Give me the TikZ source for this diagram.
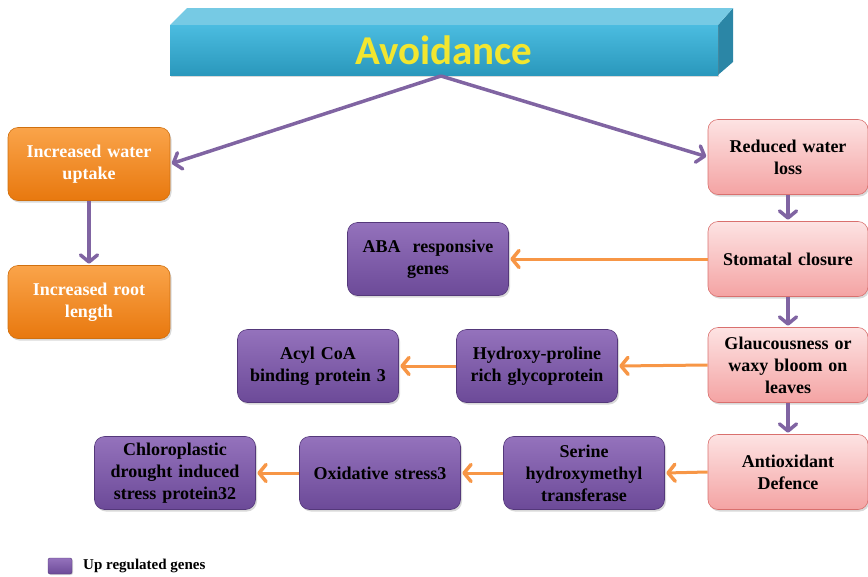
\documentclass[tikz,border=0pt]{standalone}
\usepackage{fontspec}
\setmainfont{Liberation Serif}
\newfontfamily\titlefont{Carlito}
\usetikzlibrary{arrows.meta,shadows}

\definecolor{barfrontT}{HTML}{4BBCE0}
\definecolor{barfrontB}{HTML}{2A98BC}
\definecolor{bartopC}{HTML}{76CAE4}
\definecolor{barsideC}{HTML}{2B86A6}
\definecolor{titleyellow}{HTML}{F2E630}
\definecolor{orangeT}{HTML}{FAA44A}
\definecolor{orangeB}{HTML}{E8780E}
\definecolor{orangeD}{HTML}{D0700F}
\definecolor{pinkT}{HTML}{FDE3E3}
\definecolor{pinkB}{HTML}{F4A3A3}
\definecolor{pinkD}{HTML}{D9706E}
\definecolor{purpT}{HTML}{9472BC}
\definecolor{purpB}{HTML}{6C4A98}
\definecolor{purpD}{HTML}{54387A}
\definecolor{purpArrow}{HTML}{8064A2}
\definecolor{orangeArrow}{HTML}{F79646}

\tikzset{
  box/.style={rounded corners=10pt, align=center, text width=150pt,
    font=\fontsize{18}{22}\selectfont\bfseries,
    drop shadow={shadow xshift=1.5pt, shadow yshift=-2pt, opacity=0.3}},
  orangebox/.style={box, top color=orangeT, bottom color=orangeB, draw=orangeD,
    line width=0.6pt, text=white, minimum width=162pt, minimum height=73pt},
  pinkbox/.style={box, top color=pinkT, bottom color=pinkB, draw=pinkD,
    line width=0.6pt, text=black, minimum width=160pt, minimum height=75pt},
  purplebox/.style={box, top color=purpT, bottom color=purpB, draw=purpD,
    line width=0.6pt, text=black, minimum width=161pt, minimum height=73pt},
  purparrow/.style={draw=purpArrow, line width=3.5pt, shorten >=1.5pt,
    -{Straight Barb[length=7pt, width=17pt, line width=3.5pt, round]}},
  orangearrow/.style={draw=orangeArrow, line width=3pt, shorten >=1.5pt,
    -{Straight Barb[length=7pt, width=17pt, line width=3.5pt, round]}},
}

\begin{document}
\begin{tikzpicture}[x=1pt, y=-1pt]
\useasboundingbox (0,0) rectangle (868,576);

% Title bar drawn as a block: side and top faces, then the front face
\fill[barsideC] (718,25) -- (733,8) -- (733,62) -- (718,75) -- cycle;
\fill[bartopC] (170,25) -- (187,8) -- (733,8) -- (718,25) -- cycle;
\node[top color=barfrontT, bottom color=barfrontB, minimum width=548pt,
  minimum height=50pt, inner sep=0pt, text=titleyellow,
  font=\titlefont\fontsize{41}{44}\selectfont\bfseries,
  drop shadow={shadow xshift=1pt, shadow yshift=-2pt, opacity=0.3}]
  (avoid) at (444,50) {Avoidance};

% Left branch
\node[orangebox] (uptake) at (89,164) {Increased water\\uptake};
\node[orangebox] (root) at (89,302) {Increased root\\length};

% Right branch
\node[pinkbox] (reduced) at (788,157) {Reduced water\\loss};
\node[pinkbox] (stomatal) at (788,259) {Stomatal closure};
\node[pinkbox] (glauc) at (788,365) {Glaucousness or\\waxy bloom on\\leaves};
\node[pinkbox] (antiox) at (788,472) {Antioxidant\\Defence};

% Genes
\node[purplebox] (aba) at (428,259) {ABA\ \ responsive\\genes};
\node[purplebox] (hydroxy) at (537,366) {Hydroxy-proline\\rich glycoprotein};
\node[purplebox] (acyl) at (318,366) {Acyl CoA\\binding protein 3};
\node[purplebox] (serine) at (584,473) {Serine\\hydroxymethyl\\transferase};
\node[purplebox] (oxid) at (380,473) {Oxidative stress3};
\node[purplebox] (chloro) at (175,473) {Chloroplastic\\drought induced\\stress protein32};

% Legend
\node[rounded corners=2pt, top color=purpT, bottom color=purpB, draw=purpD,
  line width=0.4pt, minimum width=24pt, minimum height=16pt, inner sep=0pt,
  drop shadow={shadow xshift=1pt, shadow yshift=-1pt, opacity=0.3}]
  (legbox) at (60,566) {};
\node[anchor=west, font=\fontsize{15}{17}\selectfont\bfseries, inner sep=0pt]
  (legtext) at (83,566) {Up regulated genes};

% Purple connectors
\coordinate (split) at (441,76);
\draw[purparrow] (split) -- (uptake.east);
\draw[purparrow] (split) -- (reduced.west);
\draw[purparrow] (uptake.south) -- (root.north);
\draw[purparrow] (reduced.south) -- (stomatal.north);
\draw[purparrow] (stomatal.south) -- (glauc.north);
\draw[purparrow] (glauc.south) -- (antiox.north);

% Orange connectors
\draw[orangearrow] (stomatal.west) -- (aba.east);
\draw[orangearrow] (glauc.west) -- (hydroxy.east);
\draw[orangearrow] (hydroxy.west) -- (acyl.east);
\draw[orangearrow] (antiox.west) -- (serine.east);
\draw[orangearrow] (serine.west) -- (oxid.east);
\draw[orangearrow] (oxid.west) -- (chloro.east);
\end{tikzpicture}
\end{document}
